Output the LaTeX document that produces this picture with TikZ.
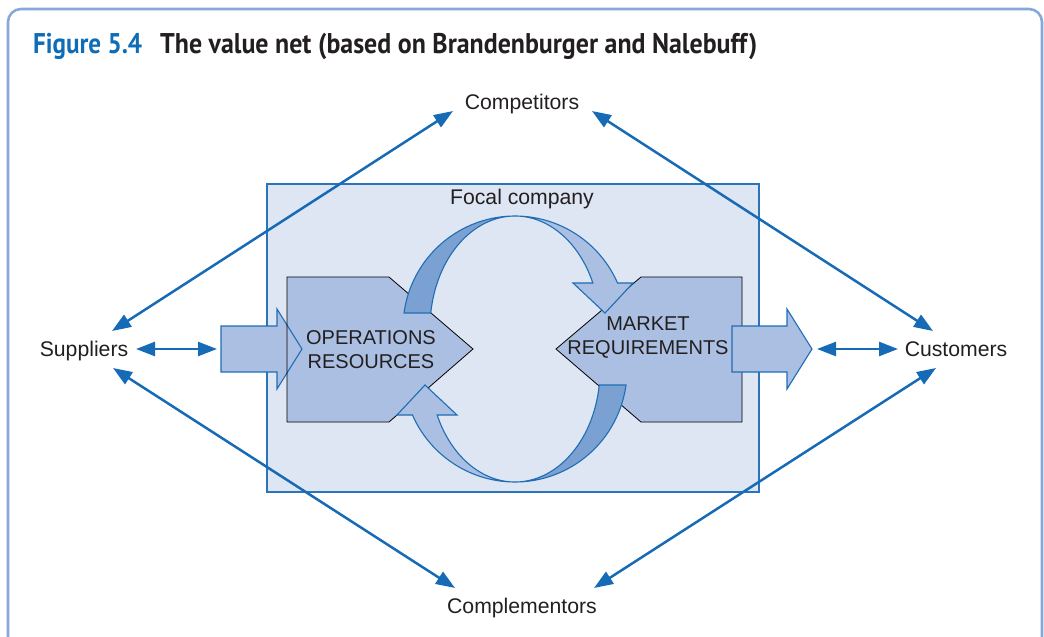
\documentclass[tikz,border=0pt]{standalone}
\usepackage{fontspec}
\usepackage{graphicx}
\setmainfont{Liberation Sans}
\newfontfamily\titlefont{PT Sans}
\usetikzlibrary{arrows.meta}
\definecolor{framecol}{HTML}{86A8DA}
\definecolor{focalfill}{HTML}{DEE6F3}
\definecolor{focalline}{HTML}{2C74B9}
\definecolor{pentfill}{HTML}{AABFE1}
\definecolor{darkband}{HTML}{7BA1D3}
\definecolor{arrline}{HTML}{1F6DB5}
\definecolor{connblue}{HTML}{176BB6}
\definecolor{figblue}{HTML}{0F6CB6}
\definecolor{txt}{HTML}{231F20}
\newcommand{\ribbonarrow}{%
  \fill[pentfill] plot[domain=90:23.7,samples=50,smooth] ({515+112*cos(\x)},{328-112*sin(\x)})
     -- (633,283) -- (605,313) -- (573,283)
     -- plot[domain=23.7:90,samples=50,smooth] ({515+85*cos(\x)},{328-112*sin(\x)}) -- cycle;
  \fill[darkband] plot[domain=172.3:90,samples=50,smooth] ({515+112*cos(\x)},{328-112*sin(\x)})
     -- plot[domain=90:172.3,samples=50,smooth] ({515+85*cos(\x)},{328-112*sin(\x)}) -- cycle;
  \draw[arrline, line width=1.1pt, line join=miter] plot[domain=172.3:23.7,samples=90,smooth] ({515+112*cos(\x)},{328-112*sin(\x)})
     -- (633,283) -- (605,313) -- (573,283)
     -- plot[domain=23.7:172.3,samples=90,smooth] ({515+85*cos(\x)},{328-112*sin(\x)}) -- cycle;
}
\begin{document}
\begin{tikzpicture}[x=1pt,y=-1pt,
  lbl/.style={font=\fontsize{21.2}{25}\selectfont, text=txt, inner sep=0pt},
  pentlbl/.style={font=\fontsize{20}{24}\selectfont, text=txt, align=center, inner sep=0pt},
  conn/.style={connblue, line width=2.5pt, {Triangle[length=19pt,width=14pt]}-{Triangle[length=19pt,width=14pt]}},
  pent/.style={fill=pentfill},
  pentedge/.style={draw=black, line width=0.8pt, line join=miter},
  bigarrow/.style={fill=pentfill, draw=arrline, line width=1.1pt, line join=miter}]
\useasboundingbox (0,0) rectangle (1044,637);
% outer frame
\begin{scope}
\clip (0,0) rectangle (1044,637);
\draw[framecol, line width=2.6pt, rounded corners=13pt] (8,700) -- (8,9) -- (1042,9) -- (1042,700);
\end{scope}
% title
\node[anchor=base west, inner sep=0pt, text=figblue, font=\titlefont\bfseries\fontsize{28.5}{30}\selectfont] (fig) at (33,53) {\resizebox{109pt}{\height}{Figure 5.4}};
\node[anchor=base west, inner sep=0pt, text=txt, font=\titlefont\bfseries\fontsize{28.5}{30}\selectfont] (title) at (160,53) {\resizebox{597pt}{\height}{The value net (based on Brandenburger and Nalebuff)}};
% focal company box
\draw[fill=focalfill, draw=focalline, line width=1.4pt] (267,184) rectangle (759,492);
\node[lbl, anchor=base] (focal) at (522,204) {Focal company};
% pentagons (fill)
\path[pent] (287,277) -- (389,277) -- (473,349) -- (389,422) -- (287,422) -- cycle;
\path[pent] (742,277) -- (641,277) -- (556,349) -- (641,422) -- (742,422) -- cycle;
% input arrow
\draw[bigarrow] (221,326) -- (277,326) -- (277,309) -- (302,349) -- (277,389) -- (277,372) -- (221,372) -- cycle;
% pentagon outlines
\draw[pentedge] (287,277) -- (389,277) -- (473,349) -- (389,422) -- (287,422) -- cycle;
\draw[pentedge] (742,277) -- (641,277) -- (556,349) -- (641,422) -- (742,422) -- cycle;
% output arrow
\draw[bigarrow] (732,326) -- (787,326) -- (787,309) -- (812,349) -- (787,389) -- (787,372) -- (732,372) -- cycle;
% curved arrows
\ribbonarrow
\begin{scope}[rotate around={180:(515,349)}]
\ribbonarrow
\end{scope}
% pentagon labels
\node[pentlbl] (ops) at (371,350) {OPERATIONS\\RESOURCES};
\node[pentlbl] (mkt) at (648,338) {MARKET\\REQUIREMENTS};
% outer labels
\node[lbl, anchor=base] (competitors) at (522,109) {Competitors};
\node[lbl, anchor=base] (complementors) at (522,613) {Complementors};
\node[lbl, anchor=base] (suppliers) at (84,356) {Suppliers};
\node[lbl, anchor=base] (customers) at (956,356) {Customers};
% connector end points
\coordinate (compL) at (453,111);
\coordinate (compR) at (592,111);
\coordinate (complL) at (455,588);
\coordinate (complR) at (594,588);
\coordinate (supT) at (112,331);
\coordinate (supB) at (113,368);
\coordinate (supR) at (136,349);
\coordinate (inL) at (217,349);
\coordinate (cusT) at (933,331);
\coordinate (cusB) at (936,368);
\coordinate (cusL) at (898,349);
\coordinate (outR) at (817,349);
% connectors
\draw[conn] (supT) -- (compL);
\draw[conn] (compR) -- (cusT);
\draw[conn] (supB) -- (complL);
\draw[conn] (complR) -- (cusB);
\draw[conn] (supR) -- (inL);
\draw[conn] (outR) -- (cusL);
\end{tikzpicture}
\end{document}
